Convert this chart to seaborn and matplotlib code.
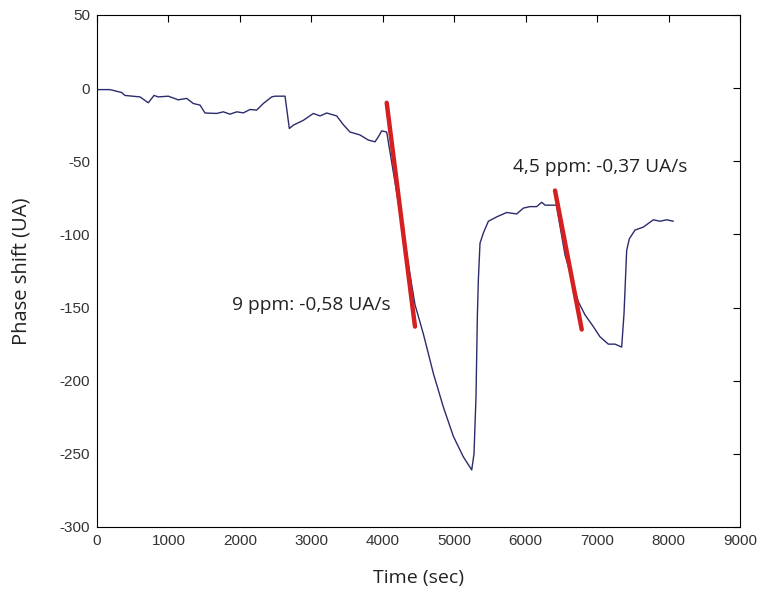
import matplotlib
matplotlib.use("Agg")
import matplotlib.pyplot as plt  # figure and axes
import seaborn as sns  # line drawing
import pandas as pd

# Phase shift trace
time_sec = [0, 182, 345, 392, 602, 718, 798, 858, 998, 1138, 1255, 1348, 1442, 1512,
            1675, 1768, 1862, 1955, 2048, 2142, 2235, 2328, 2445, 2492, 2632, 2692,
            2748, 2888, 3028, 3122, 3215, 3355, 3448, 3541, 3681, 3798, 3891, 3938,
            3985, 4055, 4150, 4250, 4350, 4451, 4568, 4708, 4848, 4988, 5127, 5245,
            5277, 5305, 5324, 5338, 5361, 5408, 5478, 5595, 5735, 5875, 5968, 6061,
            6155, 6225, 6271, 6430, 6551, 6737, 6831, 6947, 7041, 7157, 7251, 7344,
            7377, 7414, 7451, 7531, 7647, 7787, 7881, 7974, 8067]
phase_ua = [-1, -1, -3, -5, -6, -10, -5, -6, -5.5, -8, -7, -10.5, -11.6, -17,
            -17.3, -16.2, -17.8, -16.2, -16.9, -14.6, -15, -10.5, -6, -5.5, -5.5, -27.6,
            -25.3, -22, -17.3, -19, -17, -19, -25, -30, -32, -35.5, -36.7, -33.3,
            -29.2, -30, -58, -88, -118, -148, -168, -195, -218, -238, -252, -261,
            -250, -211, -156, -131, -106, -99, -91, -88, -85, -86, -82, -81,
            -81, -78, -80, -80, -114, -146, -155, -163, -170, -175, -175, -177,
            -154, -111, -103, -97, -95, -90, -91, -90, -91]

# Slope lines (start / end)
slope1_t = [4055, 4451]
slope1_v = [-10, -163]
slope2_t = [6411, 6785]
slope2_v = [-70, -165]

label1 = "9 ppm: -0,58 UA/s"
label2 = "4,5 ppm: -0,37 UA/s"

df = pd.DataFrame({"t": time_sec, "v": phase_ua})

sns.set_style("white")
plt.rcParams["axes.unicode_minus"] = False
fig = plt.figure(figsize=(7.62, 5.95), dpi=100)
ax = fig.add_axes([0.1273, 0.1143, 0.8438, 0.8605])

sns.lineplot(data=df, x="t", y="v", ax=ax, color="#2b2b6e", linewidth=1.0,
             estimator=None, sort=False)
sns.lineplot(x=slope1_t, y=slope1_v, ax=ax, color="#d42020", linewidth=3.2)
sns.lineplot(x=slope2_t, y=slope2_v, ax=ax, color="#d42020", linewidth=3.2)

ax.text(1890, -148, label1, fontsize=13.8, family="Open Sans", va="center", color="#222222")
ax.text(5823, -54, label2, fontsize=13.8, family="Open Sans", va="center", color="#222222")

ax.set_xlim(0, 9000)
ax.set_ylim(-300, 50)
ax.set_xticks(range(0, 9001, 1000))
ax.set_yticks(range(-300, 51, 50))
ax.tick_params(direction="in", length=5, top=True, right=True, labelsize=11,
               width=0.8, color="black", pad=5, labelcolor="#333333")
for lab in ax.get_xticklabels() + ax.get_yticklabels():
    lab.set_family(["Liberation Sans Narrow", "Liberation Sans"])
    lab.set_stretch("condensed")
for s in ax.spines.values():
    s.set_visible(True)
    s.set_color("black")
    s.set_linewidth(0.8)

ax.set_xlabel("Time (sec)", fontsize=14, family="Open Sans", color="#222222", labelpad=15)
ax.set_ylabel("Phase shift (UA)", fontsize=14.5, family="Open Sans", color="#222222", labelpad=20)

fig.savefig("out.png", dpi=100)
